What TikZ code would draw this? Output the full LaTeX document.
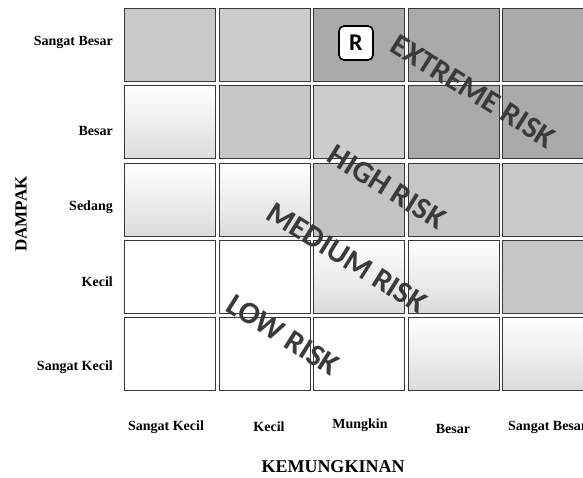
\documentclass[tikz,border=0pt]{standalone}
\usepackage{fontspec}
\setmainfont{Liberation Serif}
\newfontfamily\riskfont{Carlito}
\definecolor{cA}{HTML}{C9C9C9}
\definecolor{cB}{HTML}{CCCCCC}
\definecolor{cD}{HTML}{AAAAAA}
\definecolor{cE}{HTML}{C6C6C6}
\definecolor{cF}{HTML}{CDCDCD}
\definecolor{cG}{HTML}{C3C3C3}
\definecolor{riskgray}{HTML}{3A3A3A}
\begin{document}
\begin{tikzpicture}[x=1pt,y=-1pt,
  cell/.style={draw=black!78, line width=1.1pt, minimum width=91pt, minimum height=73pt, anchor=north west, inner sep=0pt},
  grad/.style={cell, top color=white, bottom color=black!14},
  plain/.style={cell, fill=white},
  lab/.style={font=\bfseries\fontsize{14}{16}\selectfont, inner sep=0pt},
  axis/.style={font=\bfseries\fontsize{18}{20}\selectfont, inner sep=0pt},
  risk/.style={font=\riskfont\bfseries\fontsize{31}{31}\selectfont, text=riskgray, rotate=-32, inner sep=0pt},
  rbox/.style={draw=black, line width=1.6pt, rounded corners=5pt, fill=white, minimum size=34pt, inner sep=0pt, font=\riskfont\bfseries\fontsize{24}{24}\selectfont}]
\useasboundingbox (0,0) rectangle (583,477);
% row 1 (Sangat Besar)
\node[cell, fill=cA] (c11) at (124,8) {};
\node[cell, fill=cB] (c12) at (218.5,8) {};
\node[cell, fill=cD] (c13) at (313,8) {};
\node[cell, fill=cD] (c14) at (407.5,8) {};
\node[cell, fill=cD] (c15) at (502,8) {};
% row 2 (Besar)
\node[grad] (c21) at (124,85.25) {};
\node[cell, fill=cE] (c22) at (218.5,85.25) {};
\node[cell, fill=cF] (c23) at (313,85.25) {};
\node[cell, fill=cD] (c24) at (407.5,85.25) {};
\node[cell, fill=cD] (c25) at (502,85.25) {};
% row 3 (Sedang)
\node[grad] (c31) at (124,162.5) {};
\node[grad] (c32) at (218.5,162.5) {};
\node[cell, fill=cG] (c33) at (313,162.5) {};
\node[cell, fill=cE] (c34) at (407.5,162.5) {};
\node[cell, fill=cA] (c35) at (502,162.5) {};
% row 4 (Kecil)
\node[plain] (c41) at (124,239.75) {};
\node[plain] (c42) at (218.5,239.75) {};
\node[grad] (c43) at (313,239.75) {};
\node[grad] (c44) at (407.5,239.75) {};
\node[cell, fill=cE] (c45) at (502,239.75) {};
% row 5 (Sangat Kecil)
\node[plain] (c51) at (124,317) {};
\node[plain] (c52) at (218.5,317) {};
\node[plain] (c53) at (313,317) {};
\node[grad] (c54) at (407.5,317) {};
\node[grad] (c55) at (502,317) {};
% R marker
\node[rbox] (r) at (356,43) {R};
% risk zones
\node[risk] (extreme) at (473,91) {EXTREME RISK};
\node[risk] (high) at (387,187) {HIGH RISK};
\node[risk] (medium) at (347,258) {MEDIUM RISK};
\node[risk] (low) at (283,335) {LOW RISK};
% row labels
\node[lab, anchor=east] (y5) at (113,42) {Sangat Besar};
\node[lab, anchor=east] (y4) at (113,131) {Besar};
\node[lab, anchor=east] (y3) at (113,207) {Sedang};
\node[lab, anchor=east] (y2) at (113,282) {Kecil};
\node[lab, anchor=east] (y1) at (113,367) {Sangat Kecil};
% column labels
\node[lab] (x1) at (166,427) {Sangat Kecil};
\node[lab] (x2) at (269,427) {Kecil};
\node[lab] (x3) at (360,425) {Mungkin};
\node[lab] (x4) at (453,429) {Besar};
\node[lab, anchor=west] (x5) at (508,427) {Sangat Besar};
% axis titles
\node[axis, rotate=90, font=\bfseries\fontsize{17}{19}\selectfont] (dampak) at (21,214) {DAMPAK};
\node[axis] (kemungkinan) at (333,467) {KEMUNGKINAN};
\end{tikzpicture}
\end{document}
